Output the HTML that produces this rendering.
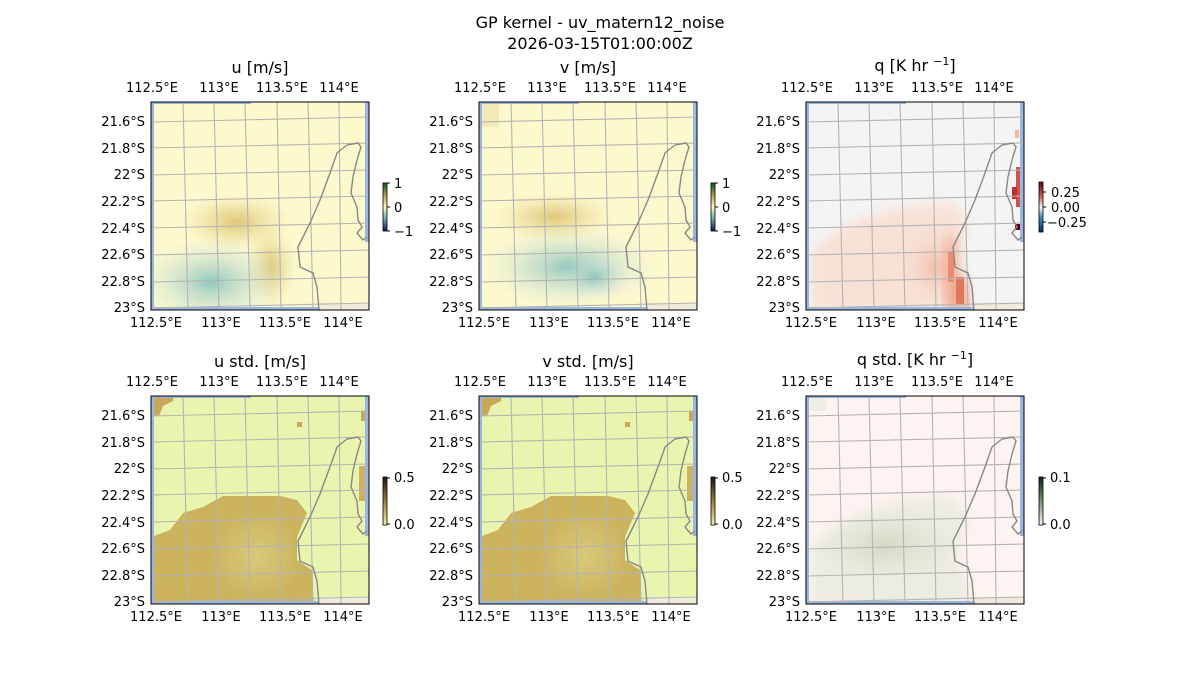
<!DOCTYPE html>
<html><head><style>
html,body{margin:0;padding:0;background:#fff;}
svg{display:block;font-family:"DejaVu Sans","Liberation Sans",sans-serif;}
.t{font-size:13px;fill:#000;}
.ti{font-size:16px;fill:#000;}
</style></head><body>
<svg width="1200" height="700" viewBox="0 0 1200 700" xmlns="http://www.w3.org/2000/svg">
<defs>
<clipPath id="cp"><rect x="0" y="0" width="218" height="208"/></clipPath>
<filter id="bl" x="-20%" y="-20%" width="140%" height="140%"><feGaussianBlur stdDeviation="6"/></filter>
<g id="grid" fill="none" stroke="#b4b4b4" stroke-width="1.1">
<path d="M32,0L37,208M63,0L68,208M94,0L99,208M126,0L130,208M157,0L162,208M188,0L190,208"/>
<path d="M0,20L218,15M0,46L218,41M0,73L218,68M0,99L218,94M0,126L218,121M0,153L218,148M0,180L218,175M0,206L218,201"/>
</g>
<path id="coast" fill="none" stroke="#888" stroke-width="1.4" d="M168,208L166,185L162,171L149,165L147,145L159,121L169,98L179,71L186,51L196,43L207,41L210,45L206,58L202,75L200,91L206,105L207,118L211,125L206,131L212,138L216,135"/>
<g id="edges">
<rect x="0" y="0" width="3" height="208" fill="#9ab6e0"/>
<rect x="0" y="0" width="100" height="2" fill="#9ab6e0"/>
<rect x="214" y="0" width="4" height="140" fill="#9ab6e0"/>
<rect x="0" y="205" width="168" height="3" fill="#9ab6e0"/>
<rect x="168" y="201" width="50" height="7" fill="#efecdc"/>
</g>
<radialGradient id="yel"><stop offset="0" stop-color="#dcc070" stop-opacity="0.9"/><stop offset="1" stop-color="#e6d48a" stop-opacity="0"/></radialGradient>
<radialGradient id="teal"><stop offset="0" stop-color="#8cc4bc" stop-opacity="0.95"/><stop offset="1" stop-color="#d8e8e0" stop-opacity="0"/></radialGradient>
<radialGradient id="org"><stop offset="0" stop-color="#f2b8a0" stop-opacity="0.9"/><stop offset="1" stop-color="#f8dccf" stop-opacity="0"/></radialGradient>
<radialGradient id="gry"><stop offset="0" stop-color="#d2d8c0" stop-opacity="0.95"/><stop offset="1" stop-color="#dfe3d3" stop-opacity="0"/></radialGradient>
<radialGradient id="lt"><stop offset="0" stop-color="#dccf82" stop-opacity="0.8"/><stop offset="1" stop-color="#dccf82" stop-opacity="0"/></radialGradient>
<linearGradient id="cb1" x1="0" y1="0" x2="0" y2="1"><stop offset="0" stop-color="#0a5a1a"/><stop offset="0.3" stop-color="#c8b060"/><stop offset="0.5" stop-color="#fff8c8"/><stop offset="0.7" stop-color="#80c0b8"/><stop offset="1" stop-color="#0a1a6a"/></linearGradient>
<linearGradient id="cb3" x1="0" y1="0" x2="0" y2="1"><stop offset="0" stop-color="#67001f"/><stop offset="0.3" stop-color="#d6604d"/><stop offset="0.5" stop-color="#f7f7f7"/><stop offset="0.7" stop-color="#4393c3"/><stop offset="1" stop-color="#053061"/></linearGradient>
<linearGradient id="cb4" x1="0" y1="0" x2="0" y2="1"><stop offset="0" stop-color="#1a1a10"/><stop offset="0.4" stop-color="#8a6a30"/><stop offset="0.8" stop-color="#d8c070"/><stop offset="1" stop-color="#f0f0a0"/></linearGradient>
<linearGradient id="cb6" x1="0" y1="0" x2="0" y2="1"><stop offset="0" stop-color="#102010"/><stop offset="0.4" stop-color="#5a8060"/><stop offset="1" stop-color="#fff0ea"/></linearGradient>
</defs>

<text class="ti" x="600" y="28" text-anchor="middle">GP kernel - uv_matern12_noise</text>
<text class="ti" x="600" y="49" text-anchor="middle">2026-03-15T01:00:00Z</text>

<!-- Panel 1 u -->
<g transform="translate(151,102)">
<g clip-path="url(#cp)">
<rect width="218" height="208" fill="#fdf9cd"/>
<ellipse cx="85" cy="120" rx="55" ry="28" fill="url(#yel)"/>
<ellipse cx="120" cy="165" rx="25" ry="40" fill="url(#yel)"/>
<ellipse cx="60" cy="180" rx="75" ry="45" fill="url(#teal)"/>
<use href="#edges"/><use href="#grid"/><use href="#coast"/>
</g>
<rect width="218" height="208" fill="none" stroke="#000" stroke-width="1"/>
</g>
<!-- Panel 2 v -->
<g transform="translate(479,102)">
<g clip-path="url(#cp)">
<rect width="218" height="208" fill="#fdf9cd"/>
<rect x="0" y="0" width="20" height="25" fill="#f4eab8"/>
<ellipse cx="75" cy="115" rx="60" ry="25" fill="url(#yel)"/>
<ellipse cx="90" cy="165" rx="90" ry="42" fill="url(#teal)"/>
<ellipse cx="115" cy="175" rx="35" ry="22" fill="url(#teal)"/>
<use href="#edges"/><use href="#grid"/><use href="#coast"/>
</g>
<rect width="218" height="208" fill="none" stroke="#000" stroke-width="1"/>
</g>
<!-- Panel 3 q -->
<g transform="translate(806,102)">
<g clip-path="url(#cp)">
<rect width="218" height="208" fill="#f4f4f4"/>
<path d="M5,150L30,130L60,115L100,105L140,100L160,112L155,140L150,170L160,180L165,208L5,208Z" fill="#f8e0d4" filter="url(#bl)"/>
<ellipse cx="130" cy="165" rx="35" ry="40" fill="url(#org)"/>
<path d="M140,140L148,130L150,175L160,180L163,208L140,208Z" fill="#eea68c" filter="url(#bl)"/>
<rect x="142" y="150" width="6" height="30" fill="#e88c72"/>
<rect x="150" y="175" width="8" height="28" fill="#e07860"/>
<rect x="210" y="65" width="4" height="40" fill="#d0504a"/>
<rect x="206" y="85" width="5" height="12" fill="#c03030"/>
<rect x="209" y="122" width="5" height="6" fill="#67001f"/>
<rect x="209" y="28" width="4" height="8" fill="#f4b8a0"/>
<use href="#edges"/><use href="#grid"/><use href="#coast"/>
</g>
<rect width="218" height="208" fill="none" stroke="#000" stroke-width="1"/>
</g>
<!-- Panel 4 u std -->
<g transform="translate(151,396)">
<g clip-path="url(#cp)">
<rect width="218" height="208" fill="#e9f5ae"/>
<path d="M0,0L22,0L22,5L12,10L8,20L0,20Z" fill="#c8a858"/>
<path d="M0,141L19,134L32,117L52,111L72,100L106,100L129,100L146,104L156,117L146,141L146,164L161,174L162,208L0,208Z" fill="#cbb35e"/>
<ellipse cx="105" cy="160" rx="45" ry="45" fill="url(#lt)"/>
<rect x="146" y="26" width="5" height="5" fill="#c8a858"/>
<rect x="210" y="15" width="4" height="10" fill="#c8a858"/>
<rect x="208" y="70" width="6" height="35" fill="#cdb060"/>
<use href="#edges"/><use href="#grid"/><use href="#coast"/>
</g>
<rect width="218" height="208" fill="none" stroke="#000" stroke-width="1"/>
</g>
<!-- Panel 5 v std -->
<g transform="translate(479,396)">
<g clip-path="url(#cp)">
<rect width="218" height="208" fill="#e9f5ae"/>
<path d="M0,0L22,0L22,5L12,10L8,20L0,20Z" fill="#c8a858"/>
<path d="M0,141L19,134L32,117L52,111L72,100L106,100L129,100L146,104L156,117L146,141L146,164L161,174L162,208L0,208Z" fill="#cbb35e"/>
<ellipse cx="105" cy="160" rx="45" ry="45" fill="url(#lt)"/>
<rect x="146" y="26" width="5" height="5" fill="#c8a858"/>
<rect x="210" y="15" width="4" height="10" fill="#c8a858"/>
<rect x="208" y="70" width="6" height="35" fill="#cdb060"/>
<use href="#edges"/><use href="#grid"/><use href="#coast"/>
</g>
<rect width="218" height="208" fill="none" stroke="#000" stroke-width="1"/>
</g>
<!-- Panel 6 q std -->
<g transform="translate(806,396)">
<g clip-path="url(#cp)">
<rect width="218" height="208" fill="#fdf3f0"/>
<rect x="0" y="0" width="20" height="15" fill="#eeeee2"/>
<path d="M5,150L30,130L60,115L100,105L140,100L160,110L155,140L150,170L160,180L165,208L5,208Z" fill="#ebebe0" filter="url(#bl)"/>
<ellipse cx="80" cy="150" rx="70" ry="35" fill="url(#gry)"/>
<use href="#edges"/><use href="#grid"/><use href="#coast"/>
</g>
<rect width="218" height="208" fill="none" stroke="#000" stroke-width="1"/>
</g>

<!-- Titles -->
<text class="ti" x="260" y="73" text-anchor="middle">u [m/s]</text>
<text class="ti" x="588" y="73" text-anchor="middle">v [m/s]</text>
<text class="ti" x="915" y="71" text-anchor="middle">q [K hr <tspan font-size="11" dy="-6">−1</tspan><tspan dy="6">]</tspan></text>
<text class="ti" x="260" y="367" text-anchor="middle">u std. [m/s]</text>
<text class="ti" x="588" y="367" text-anchor="middle">v std. [m/s]</text>
<text class="ti" x="915" y="365" text-anchor="middle">q std. [K hr <tspan font-size="11" dy="-6">−1</tspan><tspan dy="6">]</tspan></text>

<!-- Axis tick labels -->
<g class="t" font-size="13">
<g id="axlab">
<text x="152" y="92" text-anchor="middle">112.5°E</text>
<text x="219" y="92" text-anchor="middle">113°E</text>
<text x="282" y="92" text-anchor="middle">113.5°E</text>
<text x="339" y="92" text-anchor="middle">114°E</text>
<text x="156" y="327" text-anchor="middle">112.5°E</text>
<text x="221" y="327" text-anchor="middle">113°E</text>
<text x="285" y="327" text-anchor="middle">113.5°E</text>
<text x="343" y="327" text-anchor="middle">114°E</text>
<text x="145" y="126" text-anchor="end">21.6°S</text>
<text x="145" y="153" text-anchor="end">21.8°S</text>
<text x="145" y="179" text-anchor="end">22°S</text>
<text x="145" y="206" text-anchor="end">22.2°S</text>
<text x="145" y="233" text-anchor="end">22.4°S</text>
<text x="145" y="259" text-anchor="end">22.6°S</text>
<text x="145" y="286" text-anchor="end">22.8°S</text>
<text x="145" y="312" text-anchor="end">23°S</text>
</g>
<use href="#axlab" x="328"/>
<use href="#axlab" x="655"/>
<use href="#axlab" y="294"/>
<use href="#axlab" x="328" y="294"/>
<use href="#axlab" x="655" y="294"/>
</g>

<!-- Colorbars -->
<g font-size="13">
<rect x="383" y="183" width="4" height="48" fill="url(#cb1)" stroke="#000" stroke-width="0.8"/>
<path d="M387,183h3M387,207h3M387,231h3" stroke="#000"/>
<text class="t" x="394" y="188">1</text><text class="t" x="394" y="212">0</text><text class="t" x="394" y="236">−1</text>
<rect x="711" y="183" width="4" height="48" fill="url(#cb1)" stroke="#000" stroke-width="0.8"/>
<path d="M715,183h3M715,207h3M715,231h3" stroke="#000"/>
<text class="t" x="722" y="188">1</text><text class="t" x="722" y="212">0</text><text class="t" x="722" y="236">−1</text>
<rect x="1039" y="182" width="4" height="50" fill="url(#cb3)" stroke="#000" stroke-width="0.8"/>
<path d="M1043,192h3M1043,207h3M1043,222h3" stroke="#000"/>
<text class="t" x="1051" y="197">0.25</text><text class="t" x="1051" y="212">0.00</text><text class="t" x="1047" y="227">−0.25</text>
<rect x="383" y="477" width="4" height="48" fill="url(#cb4)" stroke="#000" stroke-width="0.8"/>
<path d="M387,478h3M387,524h3" stroke="#000"/>
<text class="t" x="394" y="482">0.5</text><text class="t" x="394" y="529">0.0</text>
<rect x="711" y="477" width="4" height="48" fill="url(#cb4)" stroke="#000" stroke-width="0.8"/>
<path d="M715,478h3M715,524h3" stroke="#000"/>
<text class="t" x="722" y="482">0.5</text><text class="t" x="722" y="529">0.0</text>
<rect x="1039" y="477" width="4" height="48" fill="url(#cb6)" stroke="#000" stroke-width="0.8"/>
<path d="M1043,478h3M1043,524h3" stroke="#000"/>
<text class="t" x="1050" y="482">0.1</text><text class="t" x="1050" y="529">0.0</text>
</g>
</svg>
</body></html>
